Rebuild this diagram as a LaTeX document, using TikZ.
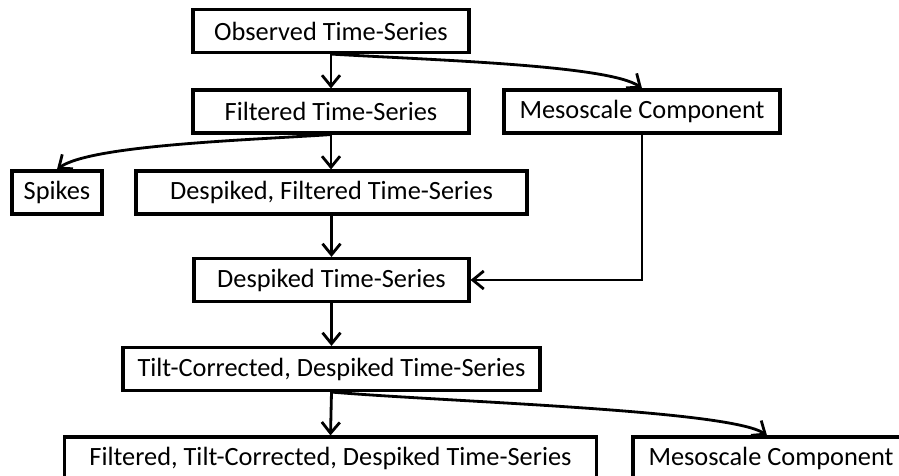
\documentclass[tikz,border=0pt]{standalone}
\usepackage{fontspec}
\setmainfont{Carlito}
\usetikzlibrary{arrows.meta}

\begin{document}
\begin{tikzpicture}[x=0.02cm,y=-0.02cm,
    blk/.style={draw,line width=1.8pt,minimum height=0.86cm,inner sep=0pt,
      font=\fontsize{15}{18}\selectfont},
    flow/.style={line width=1.6pt,-{Straight Barb[length=0.22cm,width=0.36cm]}}]
    \useasboundingbox (0,0) rectangle (899,476);
    \clip (0,0) rectangle (899,476);
    % boxes
    \node [blk,minimum width=5.52cm] (obs)    at (331,31)    {Observed Time-Series};
    \node [blk,minimum width=5.52cm] (filt)   at (331,111.5) {Filtered Time-Series};
    \node [blk,minimum width=5.52cm] (meso)   at (642,111.5) {Mesoscale Component};
    \node [blk,minimum width=1.8cm]  (spikes) at (57,192.5)  {Spikes};
    \node [blk,minimum width=7.82cm] (dfilt)  at (331.5,192.5) {Despiked, Filtered Time-Series};
    \node [blk,minimum width=5.5cm]  (dts)    at (331.5,280) {Despiked Time-Series};
    \node [blk,minimum width=8.34cm] (tilt)   at (331.5,369) {Tilt-Corrected, Despiked Time-Series};
    \node [blk,minimum width=10.64cm] (ftilt) at (330.5,458.5) {Filtered, Tilt-Corrected, Despiked Time-Series};
    \node [blk,minimum width=5.52cm] (mesob)  at (771,458.5) {Mesoscale Component};
    % connectors
    \draw [flow] (obs.south) -- (filt.north);
    \draw [flow] (obs.south) .. controls (430,60) and (610,65) .. (meso.north);
    \draw [flow] (filt.south) -- (filt.south |- dfilt.north);
    \draw [flow] (filt.south) .. controls (250,140) and (90,145) .. (spikes.north);
    \draw [flow] (dfilt.south) -- (dts.north);
    \draw [flow] (meso.south) |- (dts.east);
    \draw [flow] (dts.south) -- (tilt.north);
    \draw [flow] (tilt.south) -- (ftilt.north);
    \draw [flow] (tilt.south) .. controls (450,402) and (730,410) .. (mesob.north -| 767,0);
\end{tikzpicture}
\end{document}
